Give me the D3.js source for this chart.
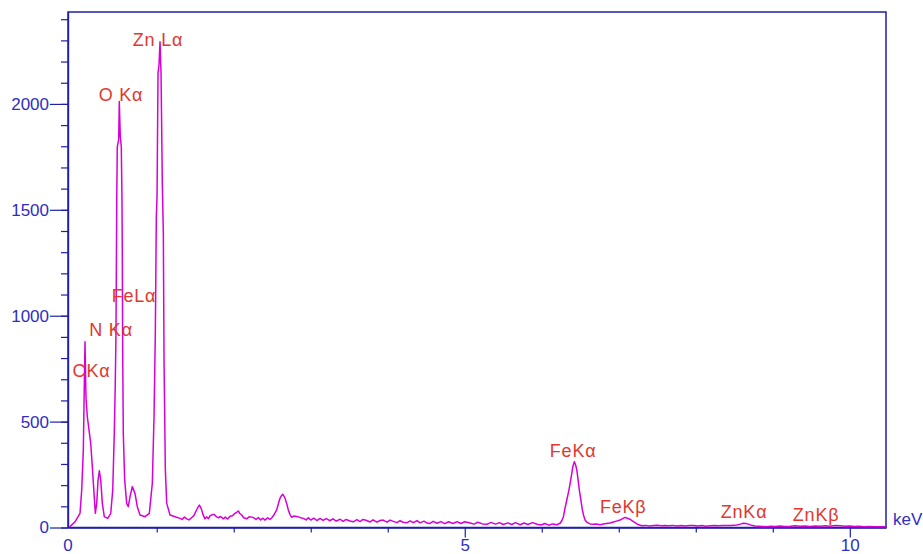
<!DOCTYPE html>
<html>
<head>
<meta charset="utf-8">
<script src="https://cdn.jsdelivr.net/npm/d3@7"></script>
<style>
  body { margin: 0; background: #fff; }
  text { font-family: Arial, "Liberation Sans", sans-serif; }
</style>
</head>
<body>
<div id="mychart"></div>
<script>
// EDS spectrum (energy in keV, counts)
var energy = [
  -0.13, -0.061, 0.004, 0.026, 0.047, 0.060, 0.069, 0.078, 0.082, 0.099, 0.121, 0.143, 0.164, 0.186, 0.203,
  0.221, 0.238, 0.255, 0.273, 0.294, 0.319, 0.364, 0.403, 0.429, 0.449, 0.462, 0.471, 0.481, 0.488, 0.506,
  0.514, 0.527, 0.540, 0.549, 0.553, 0.558, 0.566, 0.584, 0.610, 0.631, 0.653, 0.683, 0.718, 0.748, 0.783,
  0.848, 0.904, 0.943, 0.965, 0.982, 0.995, 1.004, 1.017, 1.030, 1.043, 1.056, 1.073, 1.086, 1.095, 1.112,
  1.130, 1.173, 1.238, 1.303,
  1.33, 1.36, 1.39, 1.42, 1.455, 1.48, 1.497, 1.52, 1.553, 1.57, 1.584, 1.60, 1.627, 1.65, 1.672, 1.692,
  1.715, 1.744, 1.77, 1.80, 1.83, 1.865, 1.89, 1.92, 1.952, 1.98, 2.017, 2.04, 2.06, 2.08, 2.104, 2.13,
  2.169, 2.20, 2.234, 2.26, 2.29, 2.319, 2.35, 2.38, 2.406, 2.44, 2.47, 2.494, 2.52, 2.558, 2.58, 2.601,
  2.62, 2.636, 2.65, 2.666, 2.69, 2.709, 2.73, 2.753, 2.78, 2.818, 2.85, 2.88, 2.904, 2.94, 2.97, 3.00,
  3.04, 3.08, 3.121, 3.16, 3.20, 3.251, 3.29, 3.33, 3.381, 3.42, 3.46, 3.51, 3.553, 3.60, 3.64, 3.68,
  3.727, 3.77, 3.81, 3.86, 3.90, 3.94, 3.99, 4.03, 4.073, 4.12, 4.16, 4.20, 4.247, 4.29, 4.33, 4.38,
  4.42, 4.47, 4.51, 4.549, 4.59, 4.64, 4.69, 4.74, 4.79, 4.848, 4.90, 4.95, 5.00, 5.07, 5.12, 5.17,
  5.23, 5.29, 5.34, 5.40, 5.45, 5.50, 5.56, 5.61, 5.66, 5.72, 5.77, 5.82, 5.88, 5.94, 5.99, 6.04,
  6.09, 6.14, 6.195, 6.238, 6.26, 6.281, 6.30, 6.325, 6.35, 6.369, 6.39, 6.403, 6.423, 6.44, 6.455, 6.47,
  6.488, 6.51, 6.527, 6.545, 6.562, 6.59, 6.627, 6.67, 6.71, 6.757, 6.80, 6.84, 6.887, 6.93, 6.97, 7.017,
  7.05, 7.082, 7.11, 7.147, 7.18, 7.212, 7.25, 7.299, 7.35, 7.40, 7.449, 7.50, 7.55, 7.60, 7.644, 7.70,
  7.753, 7.81, 7.86, 7.92, 7.969, 8.02, 8.08, 8.13, 8.186, 8.24, 8.30, 8.35, 8.403, 8.46, 8.532, 8.58,
  8.618, 8.65, 8.683, 8.72, 8.77, 8.82, 8.87, 8.922, 8.97, 9.03, 9.095, 9.16, 9.23, 9.29, 9.355, 9.42,
  9.48, 9.55, 9.614, 9.68, 9.74, 9.81, 9.874, 9.94, 10.00, 10.06, 10.12, 10.18, 10.25, 10.32, 10.40, 10.47
];
var counts = [
  3, 27, 67, 177, 366, 681, 877, 681, 610, 523, 460, 398, 287, 161, 67,
  114, 224, 268, 224, 114, 51, 43, 67, 177, 445, 681, 917, 1547, 1798, 1830,
  2011, 1845, 1798, 1547, 1311, 838, 445, 224, 114, 98, 145, 193, 161, 98, 59,
  51, 67, 209, 523, 917, 1468, 1562, 2145, 2184, 2294, 2145, 1617, 1389, 791, 272,
  114, 59, 51, 43,
  38, 49, 41, 36, 47, 55, 67, 85, 106, 96, 83, 62, 41, 50, 42, 55,
  60, 62, 53, 46, 52, 41, 49, 40, 53, 55, 67, 72, 78, 66, 59, 46,
  41, 51, 49, 46, 38, 47, 36, 44, 35, 46, 38, 46, 58, 83, 112, 138,
  150, 157, 150, 138, 110, 83, 62, 48, 54, 52, 49, 45, 43, 36, 46, 35,
  44, 33, 43, 34, 42, 32, 41, 30, 39, 29, 38, 31, 27, 37, 28, 38,
  33, 26, 36, 25, 33, 35, 25, 35, 29, 23, 32, 25, 22, 31, 23, 32,
  22, 30, 21, 19, 29, 20, 28, 18, 27, 19, 28, 19, 27, 21, 16, 25,
  17, 15, 24, 16, 23, 14, 22, 14, 23, 13, 21, 14, 23, 15, 12, 19,
  11, 17, 13, 20, 32, 51, 88, 130, 172, 209, 255, 287, 311, 295, 272, 230,
  177, 125, 83, 55, 35, 24, 17, 15, 17, 13, 16, 19, 21, 26, 30, 35,
  42, 48, 44, 39, 30, 23, 14, 8, 10, 7, 9, 11, 8, 10, 8, 10,
  7, 9, 7, 10, 9, 7, 9, 6, 8, 10, 8, 9, 10, 9, 12, 16,
  20, 19, 16, 11, 7, 6, 5, 4, 6, 5, 7, 5, 6, 8, 6, 7,
  5, 7, 6, 8, 6, 9, 8, 6, 7, 5, 6, 4, 5, 4, 4, 4
];

// peak labels (anchored at energy / counts of the label baseline)
var peakNames  = ["Zn L\u03b1", "O K\u03b1", "FeL\u03b1", "N K\u03b1", "CK\u03b1", "FeK\u03b1", "FeK\u03b2", "ZnK\u03b1", "ZnK\u03b2"];
var peakEnergy = [1.017, 0.536, 0.705, 0.407, 0.153, 6.407, 7.057, 8.627, 9.562];
var peakLabelY = [2274, 2014, 1065, 904, 711, 333, 68, 45, 31];

var xMajor = [5, 10];
var xMinor = [1, 2, 3, 4, 6, 7, 8, 9];
var yMajor = [0, 500, 1000, 1500, 2000];

var axisColor = "#1f1fa8", textBlue = "#2e2ec0", lineColor = "#d800d8", labelRed = "#e0382e";

var margin = {left: 68, right: 37, top: 12, bottom: 26.5};
var width = 923 - margin.left - margin.right,
    height = 554 - margin.top - margin.bottom;

var svg = d3.select("#mychart")
  .append("svg")
    .attr("width", 923)
    .attr("height", 554)
  .append("g")
    .attr("transform", "translate(" + margin.left + "," + margin.top + ")");

var x = d3.scaleLinear().domain([-0.152, 10.47]).range([0, width]);
var y = d3.scaleLinear().domain([0, 2434]).range([height, 0]);

// y axis: minor every 100, labelled every 500
svg.append("g")
  .call(d3.axisLeft(y).tickValues(d3.range(0, 2401, 100)).tickSize(7).tickSizeOuter(0).tickFormat(""));
svg.append("g")
  .attr("class", "ylab")
  .call(d3.axisLeft(y).tickValues(yMajor).tickSize(18).tickSizeOuter(0).tickPadding(1).tickFormat(d3.format("d")));

// x axis
svg.append("g")
  .attr("transform", "translate(0," + height + ")")
  .call(d3.axisBottom(x).tickValues(xMinor).tickSize(5).tickSizeOuter(0).tickFormat(""));
svg.append("g")
  .attr("class", "xlab")
  .attr("transform", "translate(0," + height + ")")
  .call(d3.axisBottom(x).tickValues(xMajor).tickSize(10).tickSizeOuter(0).tickPadding(1).tickFormat(d3.format("d")));

svg.selectAll(".tick line, .domain").attr("stroke", axisColor).attr("stroke-width", 1.2);
svg.selectAll(".ylab text, .xlab text")
  .attr("fill", textBlue)
  .style("font-size", "17px")
  .style("font-family", "Arial, 'Liberation Sans', sans-serif");

// "0" at the origin of the energy axis
svg.append("text")
  .attr("x", 0)
  .attr("y", height + 11)
  .attr("dy", "0.71em")
  .attr("text-anchor", "middle")
  .attr("fill", textBlue)
  .style("font-size", "17px")
  .text("0");

svg.append("text")
  .attr("x", width + 7)
  .attr("y", height - 3)
  .attr("fill", textBlue)
  .style("font-size", "17px")
  .text("keV");

// frame
svg.append("rect")
  .attr("width", width)
  .attr("height", height)
  .attr("fill", "none")
  .attr("stroke", axisColor)
  .attr("stroke-width", 1.5);

// spectrum
var pts = energy.map(function(e, i) { return [e, counts[i]]; });
svg.append("path")
  .datum(pts)
  .attr("fill", "none")
  .attr("stroke", lineColor)
  .attr("stroke-width", 1.5)
  .attr("stroke-linejoin", "round")
  .attr("d", d3.line()
    .x(function(d) { return x(d[0]); })
    .y(function(d) { return y(d[1]); }));

// peak labels
svg.selectAll(".peak")
  .data(peakNames)
  .enter()
  .append("text")
    .attr("class", "peak")
    .attr("x", function(d, i) { return x(peakEnergy[i]); })
    .attr("y", function(d, i) { return y(peakLabelY[i]); })
    .attr("text-anchor", "middle")
    .attr("fill", labelRed)
    .style("font-size", "18px")
    .style("letter-spacing", "0.8px")
    .text(function(d) { return d; });
</script>
</body>
</html>
